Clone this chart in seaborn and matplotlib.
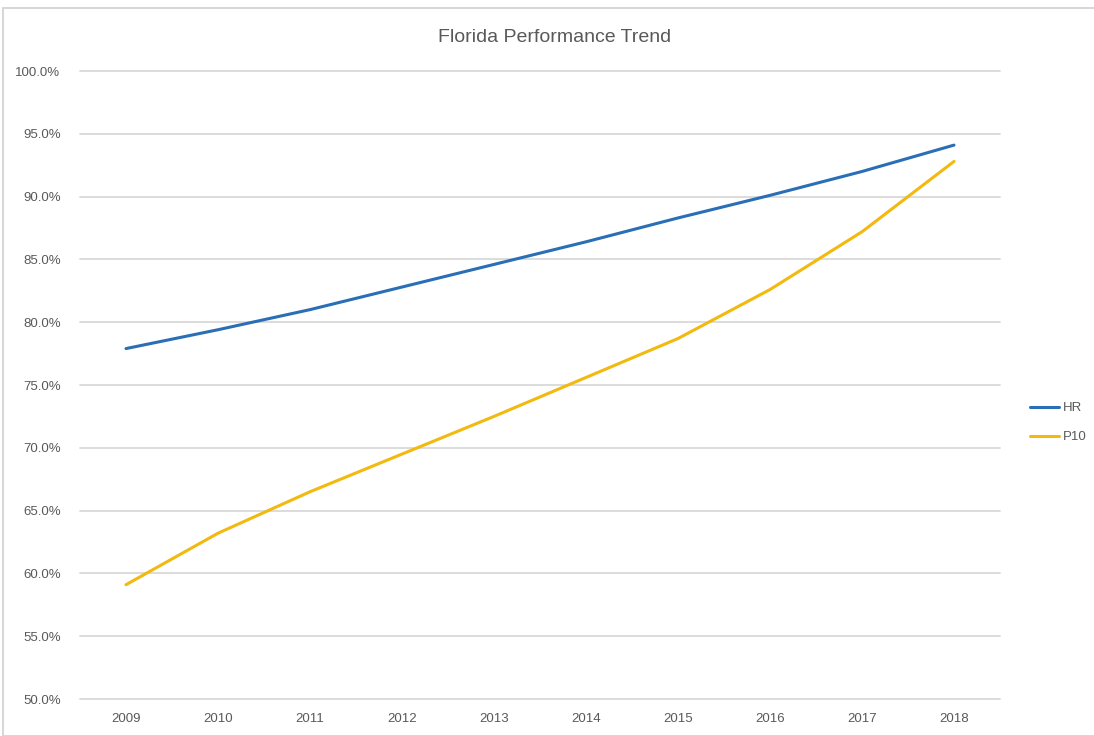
import matplotlib
matplotlib.use("Agg")
import matplotlib.pyplot as plt
import seaborn as sns
import pandas as pd
from matplotlib.patches import Rectangle
from matplotlib.ticker import FuncFormatter

years = ["2009", "2010", "2011", "2012", "2013", "2014", "2015", "2016", "2017", "2018"]
hr = [77.9, 79.4, 81.0, 82.8, 84.6, 86.4, 88.3, 90.1, 92.0, 94.1]
p10 = [59.1, 63.2, 66.5, 69.5, 72.5, 75.6, 78.7, 82.6, 87.2, 92.8]
series_names = ["HR", "P10"]
colors = ["#2a6fb5", "#f2b90f"]

df = pd.DataFrame({
    "year": years * 2,
    "value": hr + p10,
    "series": [series_names[0]] * len(years) + [series_names[1]] * len(years),
})
df["pos"] = list(range(len(years))) * 2

sns.set_theme(style="white")
plt.rcParams["font.family"] = ["Liberation Sans Narrow", "Liberation Sans", "DejaVu Sans"]

fig = plt.figure(figsize=(10.94, 7.36), dpi=100)
ax = fig.add_axes([80 / 1094, 1 - 699 / 736, 920 / 1094, (699 - 71) / 736])

sns.lineplot(data=df, x="pos", y="value", hue="series", palette=colors,
             linewidth=2.2, ax=ax, legend=True)

ax.set_xlim(-0.5, len(years) - 0.5)
ax.set_ylim(50, 100)
ax.set_yticks(range(50, 101, 5))
ax.yaxis.set_major_formatter(FuncFormatter(lambda v, p: f"{v:.1f}%"))
ax.set_xticks(range(len(years)))
ax.set_xticklabels(years)
ax.grid(axis="y", color="#d9d9d9", linewidth=1.3)
ax.grid(axis="x", visible=False)
for gl in ax.get_ygridlines():
    gl.set_clip_on(False)
for s in ax.spines.values():
    s.set_visible(False)
ax.tick_params(axis="both", length=0, labelsize=9.5, colors="#595959", pad=10)
ax.tick_params(axis="y", pad=14)
ax.set_xlabel("")
ax.set_ylabel("")

fig.text(555 / 1094, 1 - 38 / 736, "Florida Performance Trend", ha="center", va="center",
         fontsize=14, color="#595959")

handles, labels = ax.get_legend_handles_labels()
ax.legend(handles, labels, loc="center left", bbox_to_anchor=(1.02, 0.44), frameon=False,
          fontsize=9.5, labelcolor="#595959", handlelength=2.2, handletextpad=0.3,
          labelspacing=1.25)

fig.patches.append(Rectangle((3 / 1094, 0), 1.2, 1 - 8 / 736, transform=fig.transFigure,
                             fill=False, edgecolor="#d0d0d0", linewidth=1.2))

fig.savefig("out.png", dpi=100)
